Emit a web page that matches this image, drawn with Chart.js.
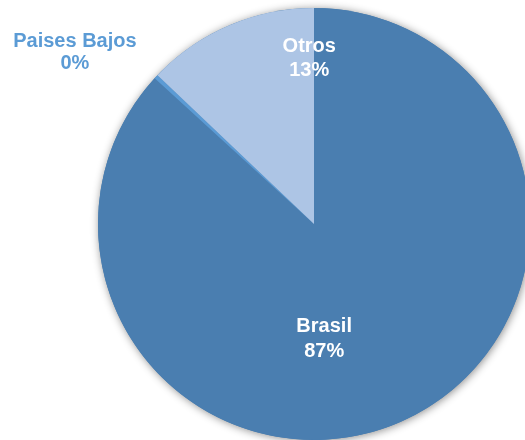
<!DOCTYPE html>
<html>
<head>
<meta charset="utf-8">
<script src="https://cdn.jsdelivr.net/npm/chart.js@4"></script>
<style>
html,body{margin:0;padding:0;background:#fff;overflow:hidden;width:525px;height:440px;}
#wrap{position:absolute;left:0;top:0;width:545px;height:440px;}
</style>
</head>
<body>
<div id="wrap"><canvas id="c" width="545" height="440"></canvas></div>
<script>
const categories = ["Brasil", "Paises Bajos", "Otros"];
const shares = [86.8, 0.3, 12.9];
const sliceColors = ["#4A7EB0", "#5B9BD5", "#ADC5E5"];

const labelPlugin = {
  id: 'labels',
  beforeDatasetsDraw(chart) {
    const meta = chart.getDatasetMeta(0);
    const a = meta.data[0];
    const ctx = chart.ctx;
    ctx.save();
    ctx.beginPath();
    ctx.arc(a.x, a.y, a.outerRadius, 0, Math.PI * 2);
    ctx.shadowColor = 'rgba(0,0,0,0.45)';
    ctx.shadowBlur = 9;
    ctx.shadowOffsetX = 1;
    ctx.shadowOffsetY = 1;
    ctx.fillStyle = sliceColors[0];
    ctx.fill();
    ctx.restore();
  },
  afterDatasetsDraw(chart) {
    const meta = chart.getDatasetMeta(0);
    const ctx = chart.ctx;
    const a0 = meta.data[0];
    const cx = a0.x, cy = a0.y, r = a0.outerRadius;
    const total = shares.reduce((s, v) => s + v, 0);
    ctx.save();
    ctx.font = 'bold 20px "Liberation Sans", Arial, sans-serif';
    ctx.textAlign = 'center';
    ctx.textBaseline = 'alphabetic';
    // [x, y of first baseline, colour, line gap]
    const pos = [
      [cx + 0.047 * r, cy + 0.50 * r, '#FFFFFF', 25],
      [cx - 1.107 * r, cy - 0.82 * r, '#5B9BD5', 22],
      [cx - 0.022 * r, cy - 0.795 * r, '#FFFFFF', 24]
    ];
    categories.forEach((name, i) => {
      const p = pos[i];
      ctx.fillStyle = p[2];
      const pct = Math.round(shares[i] / total * 100) + '%';
      ctx.fillText(name, p[0], p[1]);
      ctx.fillText(pct, p[0], p[1] + p[3]);
    });
    ctx.restore();
  }
};

new Chart(document.getElementById('c'), {
  type: 'pie',
  data: {
    labels: categories,
    datasets: [{
      data: shares,
      backgroundColor: sliceColors,
      borderWidth: 0,
      hoverOffset: 0,
      offset: 0
    }]
  },
  options: {
    responsive: false,
    animation: false,
    layout: { padding: { left: 98, right: 15, top: 8, bottom: 0 } },
    plugins: { legend: { display: false }, tooltip: { enabled: false } }
  },
  plugins: [labelPlugin]
});
</script>
</body>
</html>
